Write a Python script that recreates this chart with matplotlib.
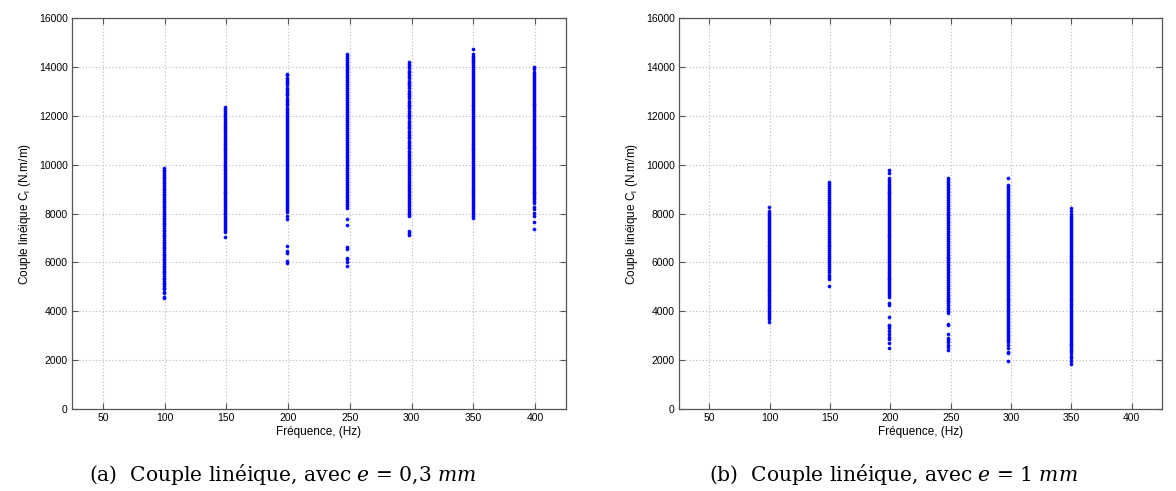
import matplotlib
matplotlib.use("Agg")
import matplotlib.pyplot as plt

# ---------------- data ----------------
freq_a = [99.2, 148.9, 198.7, 247.6, 297.6, 349.7, 399.2]
freq_b = [99.5, 149.5, 198.6, 247.5, 297.5, 350.0]

a_100 = [9850, 9790, 9720, 9660, 9580, 9510, 9450, 9370, 9300, 9240, 9160, 9090, 9020, 8960,
         8880, 8810, 8740, 8680, 8600, 8530, 8470, 8390, 8320, 8250, 8190, 8110, 8040, 7980,
         7900, 7830, 7760, 7700, 7620, 7550, 7490, 7410, 7340, 7270, 7210, 7130, 7060, 7000,
         6920, 6850, 6780, 6720, 6640, 6570, 6510, 6430, 6360, 6290, 6230, 6150, 6080, 6020,
         5940, 5870, 5800, 5740, 5660, 5590, 5530, 5450, 5380, 5310, 5250, 5170, 5100, 5040,
         4970, 4920, 4780, 4730, 4600, 4550]
a_150 = [12350, 12280, 12200, 12110, 12040, 11960, 11880, 11800, 11720, 11640, 11560, 11490,
         11400, 11330, 11250, 11170, 11090, 11010, 10930, 10860, 10780, 10700, 10620, 10540,
         10460, 10390, 10310, 10230, 10150, 10070, 9990, 9920, 9840, 9760, 9680, 9600, 9520,
         9450, 9370, 9290, 9210, 9130, 9050, 8980, 8900, 8820, 8740, 8660, 8580, 8510, 8430,
         8350, 8270, 8190, 8110, 8040, 7960, 7880, 7800, 7720, 7640, 7570, 7490, 7410, 7330,
         7250, 7050]
a_200 = [13720, 13650, 13560, 13480, 13400, 13320, 13240, 13150, 13070, 12990, 12910, 12830,
         12740, 12660, 12580, 12500, 12420, 12330, 12250, 12170, 12090, 12010, 11920, 11840,
         11760, 11680, 11600, 11510, 11430, 11350, 11270, 11190, 11100, 11020, 10940, 10860,
         10780, 10690, 10610, 10530, 10450, 10370, 10280, 10200, 10120, 10040, 9960, 9870,
         9790, 9710, 9630, 9550, 9460, 9380, 9300, 9220, 9140, 9050, 8970, 8890, 8810, 8730,
         8640, 8560, 8480, 8400, 8320, 8230, 8150, 8060, 7880, 7790, 6690, 6450, 6370, 6040,
         5980]
a_250 = [14520, 14440, 14360, 14280, 14200, 14110, 14030, 13950, 13870, 13790, 13700, 13620,
         13540, 13460, 13380, 13290, 13210, 13130, 13050, 12970, 12880, 12800, 12720, 12640,
         12560, 12470, 12390, 12310, 12230, 12150, 12060, 11980, 11900, 11820, 11740, 11650,
         11570, 11490, 11410, 11330, 11240, 11160, 11080, 11000, 10920, 10830, 10750, 10670,
         10590, 10510, 10420, 10340, 10260, 10180, 10100, 10010, 9930, 9850, 9770, 9690, 9600,
         9520, 9440, 9360, 9280, 9190, 9110, 9030, 8950, 8870, 8780, 8700, 8620, 8540, 8460,
         8370, 8290, 8230, 7780, 7520, 6610, 6540, 6190, 6140, 6020, 5840]
a_300 = [14180, 14100, 14020, 13940, 13850, 13770, 13690, 13610, 13530, 13440, 13360, 13280,
         13200, 13120, 13030, 12950, 12870, 12790, 12710, 12620, 12540, 12460, 12380, 12300,
         12210, 12130, 12050, 11970, 11890, 11800, 11720, 11640, 11560, 11480, 11390, 11310,
         11230, 11150, 11070, 10980, 10900, 10820, 10740, 10660, 10570, 10490, 10410, 10330,
         10250, 10160, 10080, 10000, 9920, 9840, 9750, 9670, 9590, 9510, 9430, 9340, 9260,
         9180, 9100, 9020, 8930, 8850, 8770, 8690, 8610, 8520, 8440, 8360, 8280, 8200, 8110,
         8030, 7960, 7900, 7300, 7220, 7120]
a_350 = [14720, 14520, 14460, 14380, 14300, 14220, 14140, 14060, 13980, 13900, 13820, 13740,
         13660, 13580, 13500, 13420, 13340, 13260, 13180, 13100, 13020, 12940, 12860, 12780,
         12700, 12620, 12540, 12460, 12380, 12300, 12220, 12140, 12060, 11980, 11900, 11820,
         11740, 11660, 11580, 11500, 11420, 11340, 11260, 11180, 11100, 11020, 10940, 10860,
         10780, 10700, 10620, 10540, 10460, 10380, 10300, 10220, 10140, 10060, 9980, 9900,
         9820, 9740, 9660, 9580, 9500, 9420, 9340, 9260, 9180, 9100, 9020, 8940, 8860, 8780,
         8700, 8620, 8540, 8460, 8380, 8300, 8220, 8140, 8060, 7980, 7900, 7800]
a_400 = [13980, 13900, 13780, 13700, 13620, 13540, 13460, 13380, 13300, 13220, 13140, 13060,
         12980, 12900, 12820, 12740, 12660, 12580, 12500, 12420, 12340, 12260, 12180, 12100,
         12020, 11940, 11860, 11780, 11700, 11620, 11540, 11460, 11380, 11300, 11220, 11140,
         11060, 10980, 10900, 10820, 10740, 10660, 10580, 10500, 10420, 10340, 10260, 10180,
         10100, 10020, 9940, 9860, 9780, 9700, 9620, 9540, 9460, 9380, 9300, 9220, 9140, 9060,
         8980, 8900, 8820, 8740, 8660, 8580, 8520, 8430, 8260, 8180, 8020, 7880, 7640, 7370]

b_100 = [8280, 8090, 8010, 7930, 7850, 7770, 7690, 7610, 7530, 7450, 7370, 7290, 7210, 7130,
         7050, 6970, 6890, 6810, 6730, 6650, 6570, 6490, 6410, 6330, 6250, 6170, 6090, 6010,
         5930, 5850, 5770, 5690, 5610, 5530, 5450, 5370, 5290, 5210, 5130, 5050, 4970, 4890,
         4810, 4730, 4650, 4570, 4490, 4410, 4330, 4250, 4170, 4090, 4010, 3930, 3850, 3770,
         3700, 3560]
b_150 = [9290, 9210, 9130, 9050, 8970, 8890, 8810, 8730, 8650, 8570, 8490, 8410, 8330, 8250,
         8170, 8090, 8010, 7930, 7850, 7770, 7690, 7610, 7530, 7450, 7370, 7290, 7210, 7130,
         7050, 6970, 6890, 6810, 6730, 6650, 6570, 6490, 6410, 6330, 6250, 6170, 6090, 6010,
         5930, 5850, 5770, 5690, 5620, 5480, 5400, 5310, 5020]
b_200 = [9760, 9640, 9460, 9380, 9300, 9220, 9140, 9060, 8980, 8900, 8820, 8740, 8660, 8580,
         8500, 8420, 8340, 8260, 8180, 8100, 8020, 7940, 7860, 7780, 7700, 7620, 7540, 7460,
         7380, 7300, 7220, 7140, 7060, 6980, 6900, 6820, 6740, 6660, 6580, 6500, 6420, 6340,
         6260, 6180, 6100, 6020, 5940, 5860, 5780, 5700, 5620, 5540, 5460, 5380, 5300, 5220,
         5140, 5060, 4980, 4900, 4820, 4740, 4660, 4580, 4320, 4270, 3760, 3440, 3380, 3300,
         3180, 3050, 2930, 2850, 2700, 2490]
b_250 = [9440, 9360, 9280, 9200, 9120, 9040, 8960, 8880, 8800, 8720, 8640, 8560, 8480, 8400,
         8320, 8240, 8160, 8080, 8000, 7920, 7840, 7760, 7680, 7600, 7520, 7440, 7360, 7280,
         7200, 7120, 7040, 6960, 6880, 6800, 6720, 6640, 6560, 6480, 6400, 6320, 6240, 6160,
         6080, 6000, 5920, 5840, 5760, 5680, 5600, 5520, 5440, 5360, 5280, 5200, 5120, 5040,
         4960, 4880, 4800, 4720, 4640, 4560, 4480, 4400, 4320, 4240, 4160, 4080, 4000, 3920,
         3470, 3420, 3050, 2920, 2820, 2730, 2620, 2530, 2400]
b_300 = [9440, 9160, 9080, 9000, 8920, 8840, 8760, 8680, 8600, 8520, 8440, 8360, 8280, 8200,
         8120, 8040, 7960, 7880, 7800, 7720, 7640, 7560, 7480, 7400, 7320, 7240, 7160, 7080,
         7000, 6920, 6840, 6760, 6680, 6600, 6520, 6440, 6360, 6280, 6200, 6120, 6040, 5960,
         5880, 5800, 5720, 5640, 5560, 5480, 5400, 5320, 5240, 5160, 5080, 5000, 4920, 4840,
         4760, 4680, 4600, 4520, 4440, 4360, 4280, 4200, 4120, 4040, 3960, 3880, 3800, 3720,
         3640, 3560, 3480, 3400, 3320, 3240, 3160, 3080, 3000, 2920, 2840, 2740, 2600, 2480,
         2330, 2280, 1960]
b_350 = [8220, 8120, 7960, 7880, 7800, 7720, 7640, 7560, 7480, 7400, 7320, 7240, 7160, 7080,
         7000, 6920, 6840, 6760, 6680, 6600, 6520, 6440, 6360, 6280, 6200, 6120, 6040, 5960,
         5880, 5800, 5720, 5640, 5560, 5480, 5400, 5320, 5240, 5160, 5080, 5000, 4920, 4840,
         4760, 4680, 4600, 4520, 4440, 4360, 4280, 4200, 4120, 4040, 3960, 3880, 3800, 3720,
         3640, 3560, 3480, 3400, 3320, 3240, 3160, 3080, 3000, 2920, 2840, 2760, 2680, 2600,
         2520, 2440, 2360, 2280, 2150, 2080, 1960, 1860]

series_a = [a_100, a_150, a_200, a_250, a_300, a_350, a_400]
series_b = [b_100, b_150, b_200, b_250, b_300, b_350]

xticks = [50, 100, 150, 200, 250, 300, 350, 400]
yticks = [0, 2000, 4000, 6000, 8000, 10000, 12000, 14000, 16000]

ylabel = "Couple linéique C$_\\mathregular{l}$ (N.m/m)"
xlabel = "Fréquence, (Hz)"
caption_a = "(a)  Couple linéique, avec $e$ = 0,3 $mm$"
caption_b = "(b)  Couple linéique, avec $e$ = 1 $mm$"

# ---------------- plotting ----------------
plt.rcParams['font.family'] = ['Liberation Sans', 'DejaVu Sans']
plt.rcParams['mathtext.fontset'] = 'custom'
plt.rcParams['mathtext.it'] = 'DejaVu Serif:italic'
plt.rcParams['mathtext.rm'] = 'Liberation Sans'

fig = plt.figure(figsize=(11.76, 4.91), dpi=100)
W, H = 1176, 491
ax_a = fig.add_axes([72 / W, 1 - 409 / H, (566 - 72) / W, (409 - 18) / H])
ax_b = fig.add_axes([679 / W, 1 - 409 / H, (1162 - 679) / W, (409 - 18) / H])

edge = '#555555'
for ax, freqs, series in ((ax_a, freq_a, series_a), (ax_b, freq_b, series_b)):
    for f, vals in zip(freqs, series):
        ax.plot([f] * len(vals), vals, linestyle='none', marker='o', ms=2.3,
                mfc='#0000ff', mec='#0000ff', mew=0.3)
    ax.set_xlim(25, 425)
    ax.set_ylim(0, 16000)
    ax.set_xticks(xticks)
    ax.set_yticks(yticks)
    ax.grid(True, linestyle=(0, (1, 2)), color='#b8b8b8', linewidth=0.8)
    ax.set_axisbelow(True)
    ax.tick_params(direction='in', top=True, right=True, length=4, width=0.8,
                   color=edge, labelsize=7.5, pad=3)
    for s in ax.spines.values():
        s.set_color(edge)
        s.set_linewidth(0.9)
    ax.set_xlabel(xlabel, fontsize=8.5, labelpad=2)
    ax.set_ylabel(ylabel, fontsize=8.5, labelpad=4)

fig.text(89 / W, 1 - 481 / H, caption_a, ha='left', va='baseline',
         fontsize=14.6, family='DejaVu Serif')
fig.text(709 / W, 1 - 481 / H, caption_b, ha='left', va='baseline',
         fontsize=14.6, family='DejaVu Serif')

fig.savefig('out.png', dpi=100)
